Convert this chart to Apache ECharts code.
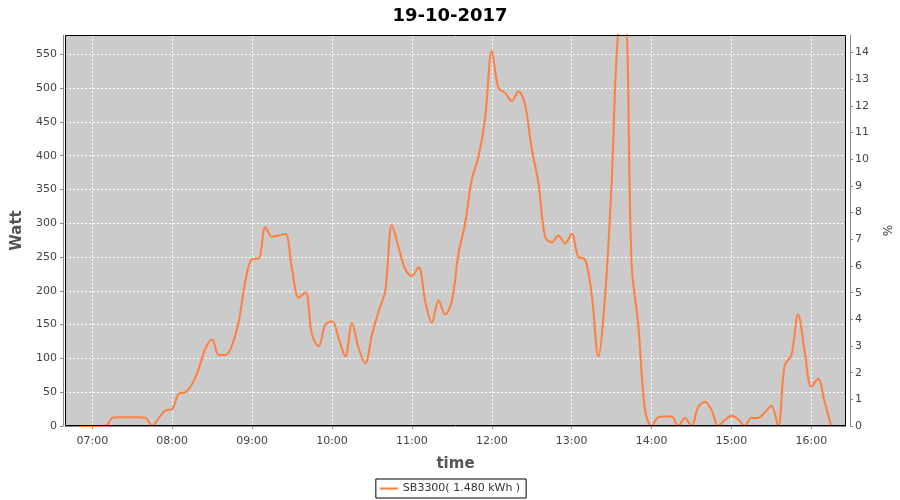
<!DOCTYPE html>
<html>
<head>
<meta charset="utf-8">
<script src="https://cdn.jsdelivr.net/npm/echarts@6/dist/echarts.min.js"></script>
<style>
html,body{margin:0;padding:0;background:#fff;}
#c{width:900px;height:500px;}
</style>
</head>
<body>
<div id="c"></div>
<script>
var times = ['06:50','06:55','07:00','07:05','07:10','07:15','07:20','07:25','07:30','07:35','07:40','07:45','07:50','07:55',
'08:00','08:05','08:10','08:15','08:20','08:25','08:30','08:35','08:40','08:45','08:50','08:55',
'09:00','09:05','09:10','09:15','09:20','09:25','09:30','09:35','09:40','09:45','09:50','09:55',
'10:00','10:05','10:10','10:15','10:20','10:25','10:30','10:35','10:40','10:45','10:50','10:55',
'11:00','11:05','11:10','11:15','11:20','11:25','11:30','11:35','11:40','11:45','11:50','11:55',
'12:00','12:05','12:10','12:15','12:20','12:25','12:30','12:35','12:40','12:45','12:50','12:55',
'13:00','13:05','13:10','13:15','13:20','13:25','13:30','13:35','13:40','13:45','13:50','13:55',
'14:00','14:05','14:10','14:15','14:20','14:25','14:30','14:35','14:40','14:45','14:50','14:55',
'15:00','15:05','15:10','15:15','15:20','15:25','15:30','15:35','15:40','15:45','15:50','15:55',
'16:00','16:05','16:10','16:15'];
var watts = [0,0,0,0,0,12,13,13,13,13,12,0,12,23,
25,48,50,62,85,115,128,105,105,120,155,215,
247,248,294,280,282,284,232,190,198,135,118,150,
155,130,103,152,115,93,135,170,200,297,265,232,
222,235,185,153,186,165,185,255,300,365,398,455,
555,500,493,481,495,475,410,360,280,272,282,270,
284,250,247,195,103,190,360,585,600,240,150,25,
0,13,14,14,0,12,0,28,36,24,0,9,
15,10,0,12,12,20,30,0,90,105,165,110,
58,70,35,0];
var seriesName = 'SB3300( 1.480 kWh )';
var titleText = '19-10-2017';

function toTs(hm, sec) {
  var p = hm.split(':');
  return new Date(2017, 9, 19, +p[0], +p[1], sec || 0).getTime();
}
var data = times.map(function (t, i) { return [toTs(t), watts[i]]; });

var G = {left: 65, right: 54, top: 35, bottom: 74};
var chart = echarts.init(document.getElementById('c'), null, {renderer: 'canvas'});
var axisLabelStyle = {color: '#444', fontFamily: 'DejaVu Sans', fontSize: 11};
chart.setOption({
  animation: false,
  backgroundColor: '#ffffff',
  title: {
    text: titleText, left: 'center', top: 2,
    textStyle: {fontFamily: 'DejaVu Sans', fontWeight: 'bold', fontSize: 18, color: '#000'}
  },
  legend: {
    bottom: 2, left: 'center',
    data: [seriesName],
    icon: 'rect', itemWidth: 18, itemHeight: 2, itemGap: 4,
    borderColor: '#000', borderWidth: 1, borderRadius: 0,
    padding: [4, 6, 4, 4],
    textStyle: {fontFamily: 'DejaVu Sans', fontSize: 11, color: '#333'}
  },
  grid: {
    left: G.left, right: G.right, top: G.top, bottom: G.bottom,
    show: true, backgroundColor: '#cbcbcb', borderWidth: 0
  },
  graphic: [{
    type: 'rect', z: 100, silent: true,
    shape: {x: G.left + 0.5, y: G.top + 0.5, width: 900 - G.left - G.right - 1, height: 500 - G.top - G.bottom - 1},
    style: {fill: null, stroke: '#000', lineWidth: 1}
  }],
  xAxis: {
    type: 'time',
    min: toTs('06:39', 30), max: toTs('16:26', 0),
    minInterval: 3600 * 1000, maxInterval: 3600 * 1000,
    offset: 4,
    name: 'time', nameLocation: 'middle', nameGap: 27,
    nameTextStyle: {fontFamily: 'DejaVu Sans', fontSize: 15, fontWeight: 'bold', color: '#555'},
    axisLine: {show: true, lineStyle: {color: '#888', width: 1}},
    axisTick: {show: true, length: 3, lineStyle: {color: '#888'}},
    axisLabel: Object.assign({formatter: '{HH}:{mm}', margin: 6}, axisLabelStyle),
    splitLine: {show: true, lineStyle: {color: '#ffffff', type: [2, 2], width: 1}}
  },
  yAxis: [{
    type: 'value', position: 'left',
    min: 0, max: 578.6, interval: 50,
    offset: 2,
    name: 'Watt', nameLocation: 'middle', nameGap: 37,
    nameTextStyle: {fontFamily: 'DejaVu Sans', fontSize: 15, fontWeight: 'bold', color: '#555'},
    axisLine: {show: true, lineStyle: {color: '#888'}},
    axisTick: {show: true, length: 3, lineStyle: {color: '#888'}},
    axisLabel: Object.assign({margin: 6, showMaxLabel: false}, axisLabelStyle),
    splitLine: {show: true, lineStyle: {color: '#ffffff', type: [2, 2], width: 1}}
  }, {
    type: 'value', position: 'right',
    min: 0, max: 14.66, interval: 1,
    offset: 4,
    name: '%', nameLocation: 'middle', nameGap: 26, nameRotate: -90,
    nameTextStyle: {fontFamily: 'DejaVu Sans', fontSize: 12, color: '#444'},
    axisLine: {show: true, lineStyle: {color: '#888'}},
    axisTick: {show: true, length: 3, lineStyle: {color: '#888'}},
    axisLabel: Object.assign({margin: 5, showMaxLabel: false}, axisLabelStyle),
    splitLine: {show: false}
  }],
  series: [{
    name: seriesName,
    type: 'line',
    yAxisIndex: 0,
    data: data,
    smooth: 0.35,
    showSymbol: false,
    clip: true,
    color: '#ff7f3f',
    lineStyle: {color: '#ff7f3f', width: 2}
  }]
});
</script>
</body>
</html>
